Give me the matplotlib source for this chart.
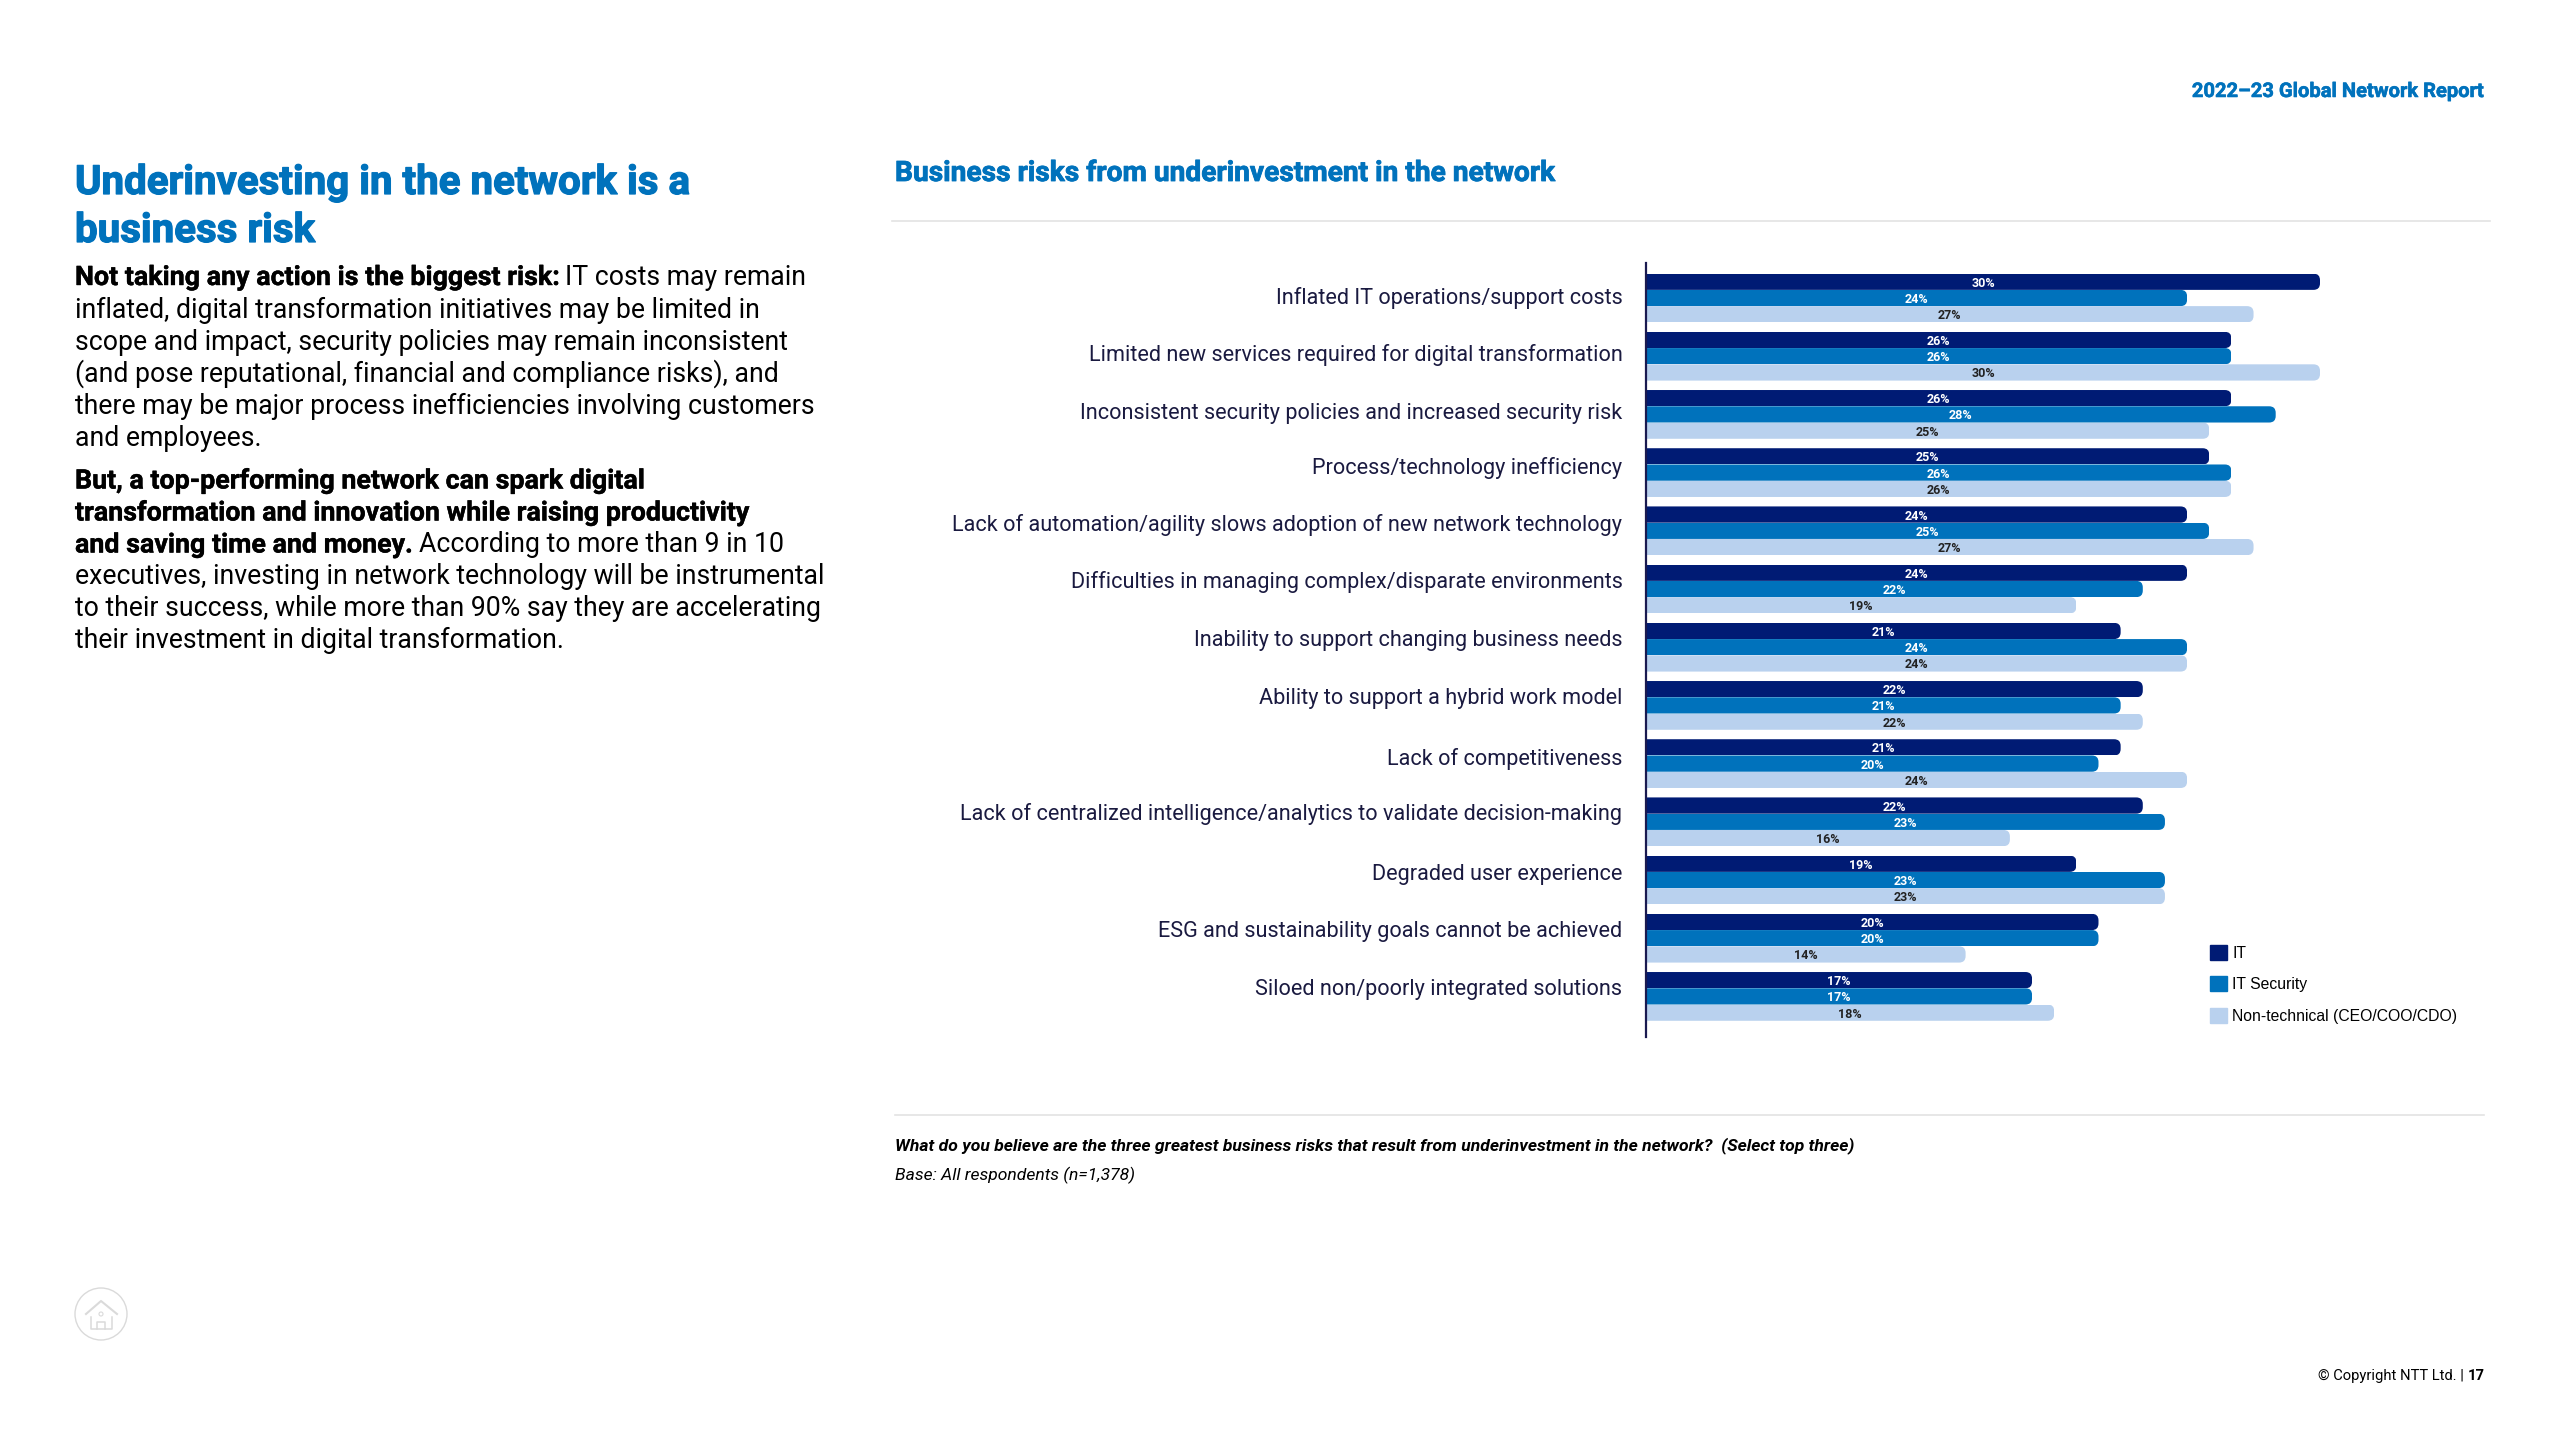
import matplotlib
matplotlib.use("Agg")
import matplotlib.pyplot as plt
import matplotlib.patheffects as pe
from matplotlib.path import Path
from matplotlib.patches import Patch, Circle
from matplotlib.transforms import IdentityTransform
import numpy as np

# ---------- data ----------
categories = [
    "Inflated IT operations/support costs",
    "Limited new services required for digital transformation",
    "Inconsistent security policies and increased security risk",
    "Process/technology inefficiency",
    "Lack of automation/agility slows adoption of new network technology",
    "Difficulties in managing complex/disparate environments",
    "Inability to support changing business needs",
    "Ability to support a hybrid work model",
    "Lack of competitiveness",
    "Lack of centralized intelligence/analytics to validate decision-making",
    "Degraded user experience",
    "ESG and sustainability goals cannot be achieved",
    "Siloed non/poorly integrated solutions",
]
it_values = [30, 26, 26, 25, 24, 24, 21, 22, 21, 22, 19, 20, 17]
security_values = [24, 26, 28, 26, 25, 22, 24, 21, 20, 23, 23, 20, 17]
nontech_values = [27, 30, 25, 26, 27, 19, 24, 22, 24, 16, 23, 14, 18]
series_names = ["IT", "IT Security", "Non-technical (CEO/COO/CDO)"]

# ---------- style ----------
W, H = 2560, 1440
NAVY, BLUE, LIGHT = "#001B74", "#0072BC", "#B9D1EE"
HEAD = "#0072BC"
LABEL_DARK = "#1A1A40"
label_nudge = [-.05, -.055, -.055, -.13, -.15, -.155, -.15, -.155, -.115, -.17, -.13, -.165, -.155]

plt.rcParams["font.family"] = ["Roboto", "DejaVu Sans"]
fig = plt.figure(figsize=(W / 100, H / 100), dpi=100, facecolor="white")

# overlay in pixel coordinates for page furniture
ov = fig.add_axes([0, 0, 1, 1], zorder=0)
ov.set_xlim(0, W)
ov.set_ylim(H, 0)
ov.axis("off")


def heavy(color, width):
    return [pe.withStroke(linewidth=width, foreground=color)]


def runs(x, y, parts, size, color="black", ha="left", bold_size=None, stroke=0.0):
    """Draw (text, weight) runs on a common baseline, starting at x."""
    r = fig.canvas.get_renderer()
    cur = x
    out = []
    for text, weight, gap in parts:
        s = bold_size if (bold_size and weight == "bold") else size
        t = ov.text(cur, y, text, fontsize=s, fontweight=weight, color=color, va="baseline", ha="left")
        if weight == "bold" and stroke:
            t.set_path_effects(heavy(color, stroke))
        cur = ov.transData.inverted().transform((t.get_window_extent(r).x1, 0))[0] + gap
        out.append(t)
    if ha == "right":
        shift = cur - x
        for t in out:
            px, py = t.get_position()
            t.set_position((px - shift, py))


# left column
LEFT = 75
TITLE = 29.0
for yy, line in [(194, "Underinvesting in the network is a"), (242, "business risk")]:
    ov.text(LEFT, yy, line, fontsize=TITLE, fontweight="bold", color=HEAD, va="baseline",
            path_effects=heavy(HEAD, 0.9))
BODY = 19.2
BOLD = 19.3
SW = 0.3
runs(LEFT, 285, [("Not taking any action is the biggest risk:", "bold", 7), ("IT costs may remain", "normal", 0)],
     BODY, bold_size=BOLD, stroke=SW)
para1 = [
    "inflated, digital transformation initiatives may be limited in",
    "scope and impact, security policies may remain inconsistent",
    "(and pose reputational, financial and compliance risks), and",
    "there may be major process inefficiencies involving customers",
    "and employees.",
]
for i, line in enumerate(para1):
    ov.text(LEFT, 317.5 + 32 * i, line, fontsize=BODY, color="black", va="baseline")
for yy, line in [(488.5, "But, a top-performing network can spark digital"),
                 (520.5, "transformation and innovation while raising productivity")]:
    ov.text(LEFT, yy, line, fontsize=BOLD, fontweight="bold", va="baseline", path_effects=heavy("black", SW))
runs(LEFT, 552.5, [("and saving time and money.", "bold", 7), ("According to more than 9 in 10", "normal", 0)],
     BODY, bold_size=BOLD, stroke=SW)
for i, line in enumerate([
    "executives, investing in network technology will be instrumental",
    "to their success, while more than 90% say they are accelerating",
    "their investment in digital transformation.",
]):
    ov.text(LEFT, 584.5 + 32 * i, line, fontsize=BODY, color="black", va="baseline")

# header, rules, footer
ov.text(2484, 97, "2022–23 Global Network Report", fontsize=14.5, fontweight="bold", color=HEAD, va="baseline", ha="right",
        path_effects=heavy(HEAD, 0.4))
ov.text(895, 181, "Business risks from underinvestment in the network", fontsize=20.25, fontweight="bold", color=HEAD, va="baseline",
        path_effects=heavy(HEAD, 0.6))
ov.plot([892, 2490], [221, 221], color="#E3E3E3", lw=1.2)
ov.plot([895, 2484], [1115, 1115], color="#E3E3E3", lw=1.2)
ov.text(895, 1150, "What do you believe are the three greatest business risks that result from underinvestment in the network?  (Select top three)",
        fontsize=12.6, fontweight="bold", fontstyle="italic", color="black", va="baseline")
ov.text(895, 1180, "Base: All respondents (n=1,378)", fontsize=12.6, fontstyle="italic", color="black", va="baseline")
runs(2485, 1380, [("© Copyright NTT Ltd. | ", "normal", 0), ("17", "bold", 0)], 10.6, ha="right")

# home icon
GREY = "#DADADA"
ov.add_patch(Circle((101, 1314), 26, fill=False, ec=GREY, lw=1.0))
ov.plot([86, 101, 117], [1314, 1301, 1314], color=GREY, lw=1.5)
ov.plot([91, 91, 112, 112], [1317, 1329, 1329, 1317], color=GREY, lw=1.1)
ov.plot([97, 97, 105, 105], [1329, 1322, 1322, 1329], color=GREY, lw=1.1)
ov.add_patch(Circle((101, 1314), 2, fill=False, ec=GREY, lw=0.8))

# ---------- chart ----------
AX_L, AX_R, AX_T, AX_B = 1646, 2500, 263, 1037
PX_PER_PCT = 22.15
X_MIN = -9.5 / PX_PER_PCT      # bars grow from the axis line, slightly left of 0
PITCH = 58.2
FIRST_CENTER = 298.0
ax = fig.add_axes([AX_L / W, 1 - AX_B / H, (AX_R - AX_L) / W, (AX_B - AX_T) / H], zorder=1)
ax.patch.set_visible(False)
ax.set_xlim(X_MIN, X_MIN + (AX_R - AX_L) / PX_PER_PCT)
ax.set_ylim((AX_B - FIRST_CENTER) / PITCH, (AX_T - FIRST_CENTER) / PITCH)

y = np.arange(len(categories))
bar_h = 16.25 / PITCH
containers = []
for k, (vals, col, lab, txt) in enumerate(zip(
        [it_values, security_values, nontech_values],
        [NAVY, BLUE, LIGHT], series_names, ["white", "white", "#222222"])):
    arr = np.array(vals, dtype=float)
    bars = ax.barh(y + (k - 1) * bar_h, arr - X_MIN, left=X_MIN, height=bar_h, color=col, label=lab, linewidth=0)
    texts = ax.bar_label(bars, labels=[f"{v}%" for v in vals], label_type="center", color=txt,
                         fontsize=9.0, fontweight="bold")
    for t in texts:
        t.set_position((0, -1.1))
    containers.append(bars)

# rounded right ends, in display pixels
R = 6.5
for bars in containers:
    for b in bars:
        x0, y0 = ax.transData.transform((b.get_x() - 1, b.get_y()))
        x1, y1 = ax.transData.transform((b.get_x() + b.get_width(), b.get_y() + b.get_height()))
        lo, hi = min(y0, y1), max(y0, y1)
        verts = [(x0, lo), (x1 - R, lo), (x1, lo), (x1, lo + R), (x1, hi - R), (x1, hi), (x1 - R, hi), (x0, hi), (x0, lo)]
        codes = [Path.MOVETO, Path.LINETO, Path.CURVE3, Path.CURVE3, Path.LINETO, Path.CURVE3, Path.CURVE3, Path.LINETO, Path.CLOSEPOLY]
        b.set_clip_path(Path(verts, codes), IdentityTransform())

ax.set_yticks(y + np.array(label_nudge), categories)
ax.tick_params(axis="y", length=0, pad=17, labelsize=15.6, labelcolor=LABEL_DARK)
ax.set_xticks([])
for s in ["top", "right", "bottom"]:
    ax.spines[s].set_visible(False)
ax.spines["left"].set_color("#1A1A50")
ax.spines["left"].set_linewidth(1.6)

handles = [Patch(color=c, label=n) for c, n in zip([NAVY, BLUE, LIGHT], series_names)]
leg = ax.legend(handles=handles, loc="upper left", bbox_to_anchor=((2210 - AX_L) / (AX_R - AX_L), (AX_B - 945) / (AX_B - AX_T)),
                frameon=False, handlelength=1.08, handleheight=1.08, handletextpad=0.35,
                labelspacing=1.0, borderpad=0, borderaxespad=0, prop={"family": "Liberation Sans", "size": 11.3})

fig.savefig("out.png", dpi=100, facecolor="white")
